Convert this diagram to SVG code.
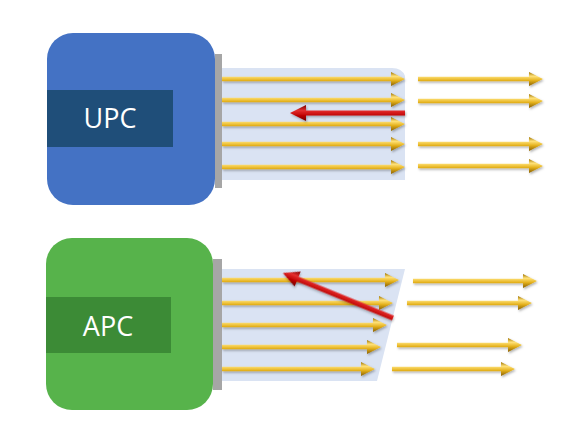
<svg xmlns="http://www.w3.org/2000/svg" width="580" height="446" viewBox="0 0 580 446">
<defs>
<linearGradient id="gold" x1="0" y1="0" x2="0" y2="1">
<stop offset="0" stop-color="#A07400"/>
<stop offset="0.3" stop-color="#FFE27A"/>
<stop offset="0.6" stop-color="#E5B21C"/>
<stop offset="1" stop-color="#8A6000"/>
</linearGradient>
<linearGradient id="red" x1="0" y1="0" x2="0" y2="1">
<stop offset="0" stop-color="#7A0000"/>
<stop offset="0.35" stop-color="#E43030"/>
<stop offset="0.65" stop-color="#C00000"/>
<stop offset="1" stop-color="#6E0000"/>
</linearGradient>
<filter id="sh" x="-5%" y="-50%" width="110%" height="200%">
<feDropShadow dx="1" dy="1.5" stdDeviation="0.8" flood-color="#000" flood-opacity="0.3"/>
</filter>
</defs>
<style>
.label{font-family:"Open Sans","Liberation Sans",sans-serif;font-size:27px;fill:#FFFFFF;text-anchor:middle}
.bar{fill:#A6A6A6}
.fib{fill:#DAE3F3}
.g{fill:url(#gold);filter:url(#sh)}
.r{fill:url(#red);filter:url(#sh)}
</style>

<g id="upc">
<rect x="47" y="33" width="168" height="172" rx="26" fill="#4472C4"/>
<rect x="47" y="90" width="126" height="57" fill="#1F4E79"/>
<text class="label" x="110" y="128">UPC</text>
<rect class="bar" x="215" y="54" width="7" height="134"/>
<path class="fib" d="M222 68 H392 Q402 68 405 76 V180 H222 Z"/>
</g>

<g id="apc">
<rect x="46" y="238" width="167" height="172" rx="26" fill="#57B34B"/>
<rect x="46" y="297" width="125" height="56" fill="#3C8B36"/>
<text class="label" x="108" y="336">APC</text>
<rect class="bar" x="213" y="259" width="9" height="131"/>
<path class="fib" d="M222 269 H405 L377 381 H222 Z"/>
</g>

<g id="connectors">
<!-- UPC fibers -->
<g class="g">
<path d="M222 76.8 H391 V72 L405 79 L391 86 V81.2 H222 Z"/>
<path d="M222 97.8 H391 V93 L405 100 L391 107 V102.2 H222 Z"/>
<path d="M222 121.8 H391 V117 L405 124 L391 131 V126.2 H222 Z"/>
<path d="M222 141.8 H391 V137 L405 144 L391 151 V146.2 H222 Z"/>
<path d="M222 164.8 H391 V160 L405 167 L391 174 V169.2 H222 Z"/>
</g>
<g class="g">
<path d="M418 76.8 H529 V72 L543 79 L529 86 V81.2 H418 Z"/>
<path d="M418 98.8 H529 V94 L543 101 L529 108 V103.2 H418 Z"/>
<path d="M418 141.8 H529 V137 L543 144 L529 151 V146.2 H418 Z"/>
<path d="M418 163.8 H529 V159 L543 166 L529 173 V168.2 H418 Z"/>
</g>
<path class="r" d="M405 110.5 H306 V105 L290 113 L306 121 V115.5 H405 Z"/>

<!-- APC fibers -->
<g class="g">
<path d="M222 277.8 H385 V273 L399 280 L385 287 V282.2 H222 Z"/>
<path d="M222 300.8 H379 V296 L393 303 L379 310 V305.2 H222 Z"/>
<path d="M222 322.8 H373 V318 L387 325 L373 332 V327.2 H222 Z"/>
<path d="M222 344.8 H367 V340 L381 347 L367 354 V349.2 H222 Z"/>
<path d="M222 366.8 H361 V362 L375 369 L361 376 V371.2 H222 Z"/>
</g>
<g class="g">
<path d="M413 278.8 H523 V274 L537 281 L523 288 V283.2 H413 Z"/>
<path d="M407 300.8 H518 V296 L532 303 L518 310 V305.2 H407 Z"/>
<path d="M397 342.8 H508 V338 L522 345 L508 352 V347.2 H397 Z"/>
<path d="M392 366.8 H501 V362 L515 369 L501 376 V371.2 H392 Z"/>
</g>
<path class="r" transform="translate(393 318) rotate(22.25)" d="M0 -2.5 H-103 V-8 L-119 0 L-103 8 V2.5 H0 Z"/>
</g>
</svg>
